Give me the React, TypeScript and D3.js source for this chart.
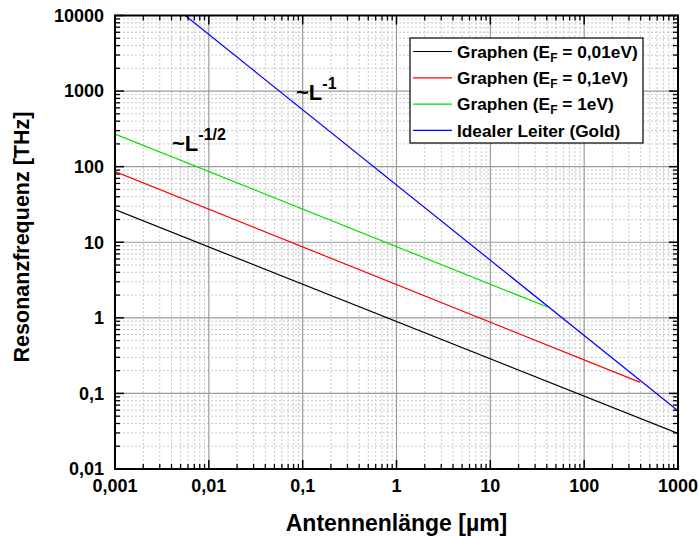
import * as d3 from "d3";

// axis ticks
const xTicks = [0.001, 0.01, 0.1, 1, 10, 100, 1000];
const xTickLabels = ["0,001", "0,01", "0,1", "1", "10", "100", "1000"];
const yTicks = [0.01, 0.1, 1, 10, 100, 1000, 10000];
const yTickLabels = ["0,01", "0,1", "1", "10", "100", "1000", "10000"];

// series (antenna length in µm, resonance frequency in THz)
const black01 = [
  { l: 0.001, f: 27 },
  { l: 1000, f: 0.0295 },
];
const red01 = [
  { l: 0.001, f: 86 },
  { l: 395, f: 0.14 },
];
const green1 = [
  { l: 0.001, f: 270 },
  { l: 40, f: 1.4 },
];
const blueGold = [
  { l: 0.0056, f: 10000 },
  { l: 1000, f: 0.059 },
];

const series = [
  { name: "Graphen (E", sub: "F", rest: " = 0,01eV)", color: "#000000", data: black01 },
  { name: "Graphen (E", sub: "F", rest: " = 0,1eV)", color: "#ff0000", data: red01 },
  { name: "Graphen (E", sub: "F", rest: " = 1eV)", color: "#00e000", data: green1 },
  { name: "Idealer Leiter (Gold)", sub: "", rest: "", color: "#0000ff", data: blueGold },
];

const W = 699;
const H = 537;
const margin = { left: 115, right: 21, top: 15.5, bottom: 68 };
const FONT = "'Liberation Sans', Arial, sans-serif";

export default function App() {
  const x = d3.scaleLog().domain([0.001, 1000]).range([margin.left, W - margin.right]);
  const y = d3.scaleLog().domain([0.01, 10000]).range([H - margin.bottom, margin.top]);
  const [x0, x1] = x.range();
  const [y0, y1] = y.range();

  const minorX: number[] = [];
  for (let i = 0; i < xTicks.length - 1; i++)
    for (let k = 2; k <= 9; k++) minorX.push(xTicks[i] * k);
  const minorY: number[] = [];
  for (let i = 0; i < yTicks.length - 1; i++)
    for (let k = 2; k <= 9; k++) minorY.push(yTicks[i] * k);

  const line = d3
    .line<{ l: number; f: number }>()
    .x((d) => x(d.l))
    .y((d) => y(d.f));

  const legendX = 410;
  const legendY = 38;
  const rowH = 26.3;

  return (
    <svg
      width={W}
      height={H}
      style={{ position: "absolute", left: 0, top: 0, background: "#fff" }}
      fontFamily={FONT}
      fontWeight="bold"
    >
      <defs>
        <clipPath id="plot">
          <rect x={x0} y={y1} width={x1 - x0} height={y0 - y1} />
        </clipPath>
      </defs>
      {/* minor grid */}
      {minorX.map((v) => (
        <line key={"mx" + v} x1={x(v)} x2={x(v)} y1={y0} y2={y1} stroke="#c8c8c8" strokeWidth={1} strokeDasharray="2,2" />
      ))}
      {minorY.map((v) => (
        <line key={"my" + v} x1={x0} x2={x1} y1={y(v)} y2={y(v)} stroke="#c8c8c8" strokeWidth={1} strokeDasharray="2,2" />
      ))}
      {/* major grid */}
      {xTicks.map((v) => (
        <line key={"gx" + v} x1={x(v)} x2={x(v)} y1={y0} y2={y1} stroke="#9a9a9a" strokeWidth={1.2} />
      ))}
      {yTicks.map((v) => (
        <line key={"gy" + v} x1={x0} x2={x1} y1={y(v)} y2={y(v)} stroke="#9a9a9a" strokeWidth={1.2} />
      ))}
      {/* data */}
      <g clipPath="url(#plot)">
        {series.map((s) => (
          <path key={s.color} d={line(s.data) ?? ""} fill="none" stroke={s.color} strokeWidth={1.2} />
        ))}
      </g>
      {/* ticks on all sides */}
      {xTicks.map((v) => (
        <g key={"tx" + v} stroke="#000" strokeWidth={1.5}>
          <line x1={x(v)} x2={x(v)} y1={y0} y2={y0 - 9} />
          <line x1={x(v)} x2={x(v)} y1={y1} y2={y1 + 9} />
        </g>
      ))}
      {minorX.map((v) => (
        <g key={"tmx" + v} stroke="#000" strokeWidth={1.3}>
          <line x1={x(v)} x2={x(v)} y1={y0} y2={y0 - 5} />
          <line x1={x(v)} x2={x(v)} y1={y1} y2={y1 + 5} />
        </g>
      ))}
      {yTicks.map((v) => (
        <g key={"ty" + v} stroke="#000" strokeWidth={1.5}>
          <line x1={x0} x2={x0 + 9} y1={y(v)} y2={y(v)} />
          <line x1={x1} x2={x1 - 9} y1={y(v)} y2={y(v)} />
        </g>
      ))}
      {minorY.map((v) => (
        <g key={"tmy" + v} stroke="#000" strokeWidth={1.3}>
          <line x1={x0} x2={x0 + 5} y1={y(v)} y2={y(v)} />
          <line x1={x1} x2={x1 - 5} y1={y(v)} y2={y(v)} />
        </g>
      ))}
      {/* frame */}
      <rect x={x0} y={y1} width={x1 - x0} height={y0 - y1} fill="none" stroke="#000" strokeWidth={2} />
      {/* tick labels */}
      {xTicks.map((v, i) => (
        <text key={"lx" + v} x={x(v)} y={y0 + 23} textAnchor="middle" fontSize={18}>
          {xTickLabels[i]}
        </text>
      ))}
      {yTicks.map((v, i) => (
        <text key={"ly" + v} x={x0 - 11} y={y(v)} dy="0.35em" textAnchor="end" fontSize={18}>
          {yTickLabels[i]}
        </text>
      ))}
      {/* axis titles */}
      <text x={(x0 + x1) / 2} y={531} textAnchor="middle" fontSize={23}>
        Antennenlänge [µm]
      </text>
      <text
        transform={`translate(29,${237}) rotate(-90)`}
        textAnchor="middle"
        fontSize={21.5}
      >
        Resonanzfrequenz [THz]
      </text>
      {/* slope annotations */}
      <text x={172} y={151} fontSize={22}>
        ~L<tspan dy={-11} fontSize={16}>-1/2</tspan>
      </text>
      <text x={296} y={99.5} fontSize={22}>
        ~L<tspan dy={-11} fontSize={16}>-1</tspan>
      </text>
      {/* legend */}
      <rect x={legendX} y={legendY} width={233} height={105} fill="#fff" stroke="#000" strokeWidth={1.2} />
      {series.map((s, i) => {
        const ry = legendY + 13.5 + i * rowH;
        return (
          <g key={"lg" + i}>
            <line x1={legendX + 3} x2={legendX + 42} y1={ry} y2={ry} stroke={s.color} strokeWidth={1.2} />
            <text x={legendX + 47} y={ry} dy="0.36em" fontSize={17.3}>
              {s.name}
              {s.sub && (
                <tspan dy={4} fontSize={12}>
                  {s.sub}
                </tspan>
              )}
              {s.rest && <tspan dy={s.sub ? -4 : 0}>{s.rest}</tspan>}
            </text>
          </g>
        );
      })}
    </svg>
  );
}
